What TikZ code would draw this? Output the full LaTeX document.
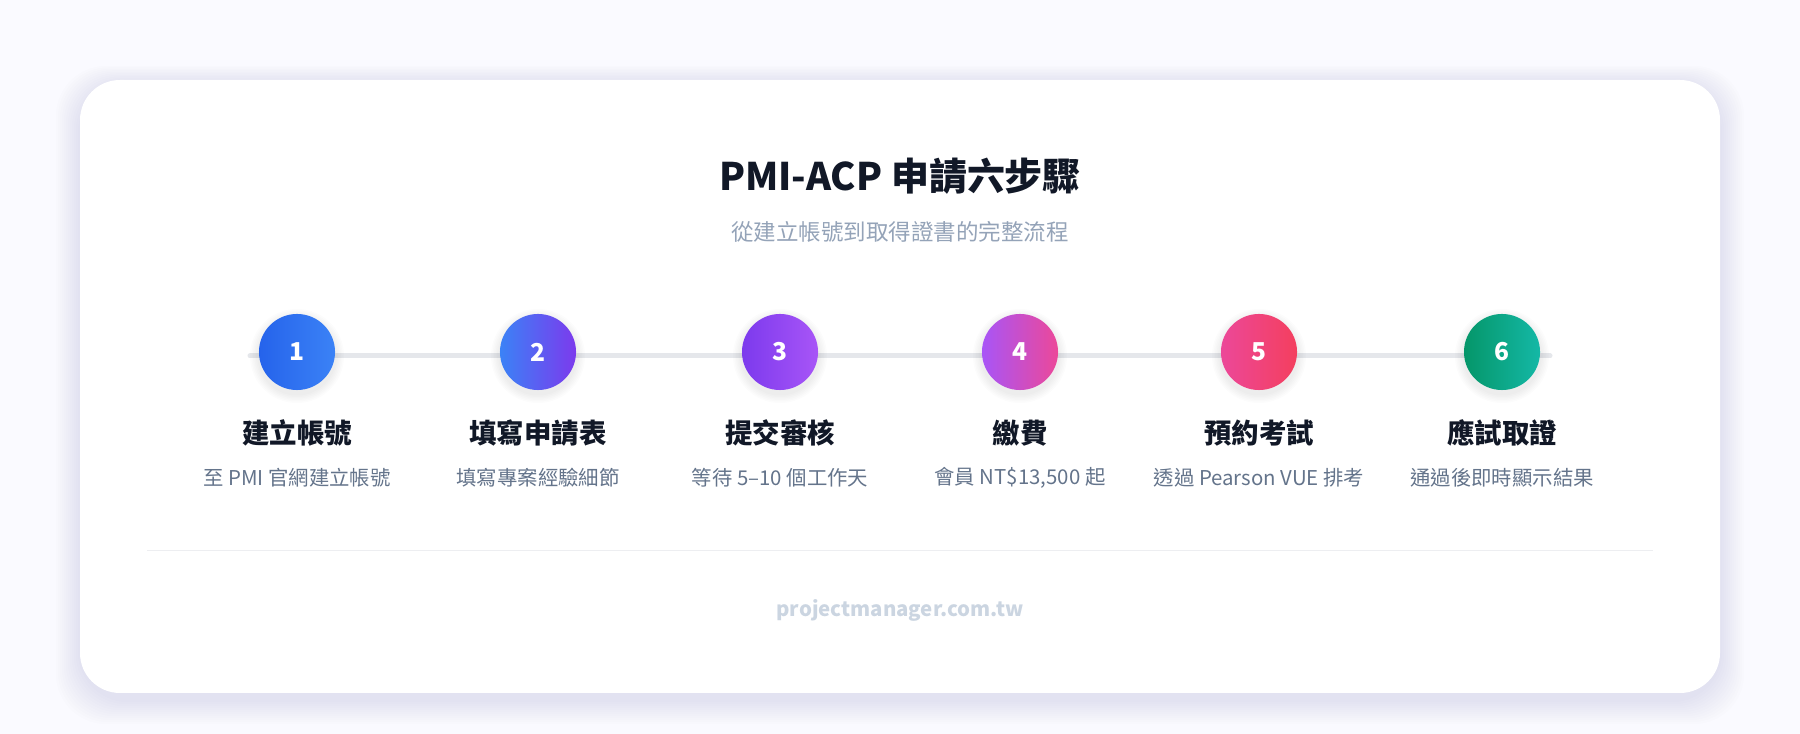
\documentclass[tikz,border=0pt]{standalone}
\usepackage{fontspec}
\setmainfont{Noto Sans CJK TC}
\usetikzlibrary{positioning}
\definecolor{ink}{HTML}{111827}
\definecolor{muted}{HTML}{64748B}
\definecolor{soft}{HTML}{94A3B8}
\definecolor{rail}{HTML}{E5E7EB}
\definecolor{faint}{HTML}{CBD5E1}
\tikzset{
  stepdot/.style={circle,minimum size=0.76cm,inner sep=0pt,text=white,
    font=\fontsize{7}{8}\selectfont\bfseries,shading=axis,shading angle=135},
  steptitle/.style={font=\fontsize{7.8}{9}\selectfont\bfseries,text=ink},
  stepdesc/.style={font=\fontsize{5.8}{7}\selectfont,text=muted}
}
\begin{document}
\begin{tikzpicture}[x=0.01cm,y=-0.01cm,line width=0.01cm]
\useasboundingbox (0,0) rectangle (1800,734);
\fill[blue!2!white] (0,0) rectangle (1800,734);
% card shadow and card
\foreach \k in {1,...,12}
  \fill[blue!30!gray,opacity=0.012,rounded corners=0.5cm]
    (80-2*\k,84-1.5*\k) rectangle (1720+2*\k,700+2*\k);
\fill[white,rounded corners=0.4cm] (80,80) rectangle (1720,693);
\node[font=\fontsize{10.8}{12}\selectfont\bfseries,text=ink] (title) at (900,176) {PMI-ACP 申請六步驟};
\node[font=\fontsize{6.4}{8}\selectfont,text=soft] (sub) at (900,232) {從建立帳號到取得證書的完整流程};
% rail
\coordinate (rs) at (250,356);
\coordinate (re) at (1550,356);
\draw[rail,line width=0.05cm,line cap=round] (rs) -- (re);
\foreach \i/\x/\ca/\cb/\t/\d in {
  1/297/2563EB/3B82F6/建立帳號/至 PMI 官網建立帳號,
  2/538/3B82F6/7C3AED/填寫申請表/填寫專案經驗細節,
  3/780/7C3AED/A855F7/提交審核/等待 5–10 個工作天,
  4/1020/A855F7/EC4899/繳費/會員 NT\$13{,}500 起,
  5/1259/EC4899/F43F5E/預約考試/透過 Pearson VUE 排考,
  6/1502/059669/14B8A6/應試取證/通過後即時顯示結果}{
  \definecolor{ca}{HTML}{\ca}\definecolor{cb}{HTML}{\cb}
  \foreach \s in {1,...,6}
    \fill[gray,opacity=0.025] (\x,356) circle ({38+1.5*\s});
  \node[stepdot,left color=ca,right color=cb] (c\i) at (\x,352) {\i};
  \node[steptitle] (t\i) at (\x,433) {\t};
  \node[stepdesc] (d\i) at (\x,478) {\d};
}
\draw[rail!70] (147,551) -- (1653,551);
\node[font=\fontsize{5.8}{7}\selectfont\bfseries,text=faint] (foot) at (900,610) {projectmanager.com.tw};
\end{tikzpicture}
\end{document}
